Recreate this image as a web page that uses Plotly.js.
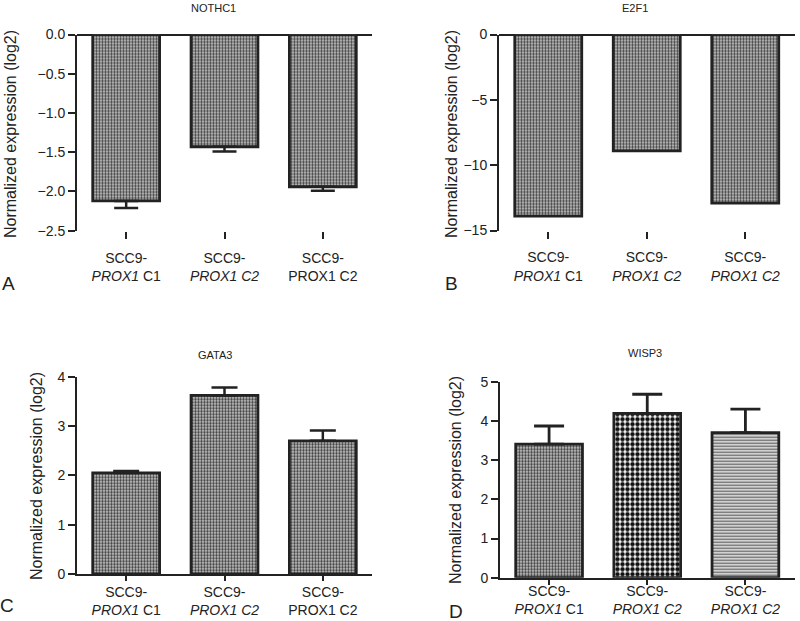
<!DOCTYPE html>
<html><head><meta charset="utf-8">
<script src="https://cdn.plot.ly/plotly-3.0.1.min.js"></script>
<style>html,body{margin:0;padding:0;background:#fff}#chart{width:800px;height:621px}</style>
</head><body><div id="chart"></div>
<script>
// ---- data ----
const positions = [0, 1, 2];
const labelsA = ["SCC9-<br><i>PROX1</i> C1", "SCC9-<br><i>PROX1 C2</i>", "SCC9-<br>PROX1 C2"];
const labelsB = ["SCC9-<br><i>PROX1</i> C1", "SCC9-<br><i>PROX1 C2</i>", "SCC9-<br><i>PROX1 C2</i>"];
const labelsC = ["SCC9-<br><i>PROX1</i> C1", "SCC9-<br><i>PROX1 C2</i>", "SCC9-<br>PROX1 C2"];
const labelsD = ["SCC9-<br><i>PROX1</i> C1", "SCC9-<br><i>PROX1 C2</i>", "SCC9-<br><i>PROX1 C2</i>"];
const notch1 = [-2.12, -1.43, -1.94];
const notch1Err = [0.09, 0.06, 0.05];
const e2f1 = [-13.9, -8.9, -12.9];
const gata3 = [2.05, 3.62, 2.70];
const gata3Err = [0.04, 0.16, 0.21];
const wisp3 = [3.41, 4.19, 3.70];
const wisp3Err = [0.46, 0.49, 0.60];
const titles = ["NOTHC1", "E2F1", "GATA3", "WISP3"];
const panelLetters = ["A", "B", "C", "D"];
const yTitle = "Normalized expression (log2)";

// ---- styling ----
const FONT = "Arial, 'Liberation Sans', Helvetica, sans-serif";
const INK = "#222";
const finePattern = {shape: ".", size: 3, solidity: 0.5, fgcolor: "#3c3c3c", bgcolor: "#d0d0d0", fillmode: "replace"};
const outline = {color: INK, width: 2.8};

function zeros(a) { return a.map(() => 0); }

const traces = [
  {type: "bar", x: positions, y: notch1, xaxis: "x", yaxis: "y", width: 0.68,
   marker: {color: "#999", line: outline, pattern: finePattern},
   error_y: {type: "data", symmetric: false, array: zeros(notch1Err), arrayminus: notch1Err, width: 12, thickness: 2.5, color: INK}},
  {type: "bar", x: positions, y: e2f1, xaxis: "x2", yaxis: "y2", width: 0.68,
   marker: {color: "#999", line: outline, pattern: finePattern}},
  {type: "bar", x: positions, y: gata3, xaxis: "x3", yaxis: "y3", width: 0.68,
   marker: {color: "#999", line: outline, pattern: finePattern},
   error_y: {type: "data", symmetric: false, array: gata3Err, arrayminus: zeros(gata3Err), width: 13, thickness: 2.5, color: INK}},
  {type: "bar", x: positions, y: wisp3, xaxis: "x4", yaxis: "y4", width: 0.68,
   marker: {color: "#999", line: outline,
     pattern: {shape: [".", ".", "-"], size: [3, 5, 3], solidity: [0.5, 0.62, 0.5],
               fgcolor: ["#3c3c3c", "#111", "#5e5e5e"], bgcolor: ["#d0d0d0", "#fff", "#f6f6f6"], fillmode: "replace"}},
   error_y: {type: "data", symmetric: false, array: wisp3Err, arrayminus: zeros(wisp3Err), width: 15, thickness: 2.8, color: INK}}
];

function xAx(domain, anchor, labels, line, ticklen, standoff) {
  return {domain: domain, anchor: anchor, range: [-0.5, 2.5], tickmode: "array", tickvals: positions, ticktext: labels,
    ticks: "outside", ticklen: ticklen, tickwidth: 2, tickcolor: INK, showline: line, linecolor: INK, linewidth: 2,
    ticklabelstandoff: standoff,
    showgrid: false, zeroline: false, fixedrange: true, tickfont: {family: FONT, size: 14, color: INK}};
}
function yAx(domain, anchor, range, dtick, fmt, zl) {
  return {domain: domain, anchor: anchor, range: range, dtick: dtick, tickformat: fmt, ticks: "outside", ticklen: 7,
    tickwidth: 2, tickcolor: INK, showline: true, linecolor: INK, linewidth: 2, showgrid: false,
    zeroline: zl, zerolinecolor: INK, zerolinewidth: 2, fixedrange: true, tickfont: {family: FONT, size: 14, color: INK}};
}

const W = 800, H = 621;
const px = v => v / W, py = v => 1 - v / H;
function note(text, x, y, size, angle) {
  return {text: text, x: px(x), y: py(y), xref: "paper", yref: "paper", xanchor: "center", yanchor: "middle",
    showarrow: false, textangle: angle || 0, font: {size: size, family: FONT, color: INK}};
}

const layout = {
  width: W, height: H, margin: {l: 0, r: 0, t: 0, b: 0}, showlegend: false,
  paper_bgcolor: "#fff", plot_bgcolor: "rgba(0,0,0,0)", bargap: 0.32,
  font: {family: FONT, color: INK},
  xaxis: xAx([px(77), px(372)], "y", labelsA, false, 7, 7),
  yaxis: yAx([py(230.7), py(34.5)], "x", [-2.5, 0], 0.5, ".1f", true),
  xaxis2: xAx([px(499), px(794.5)], "y2", labelsB, false, 7, 7),
  yaxis2: yAx([py(230.5), py(34.5)], "x2", [-15, 0], 5, "d", true),
  xaxis3: xAx([px(77), px(372)], "y3", labelsC, true, 5, -1),
  yaxis3: yAx([py(574), py(376.7)], "x3", [0, 4], 1, "d", false),
  xaxis4: xAx([px(500), px(794.5)], "y4", labelsD, true, 5, -6),
  yaxis4: yAx([py(577.7), py(381.7)], "x4", [0, 5], 1, "d", false),
  annotations: [
    note(titles[0], 213, 8, 11), note(titles[1], 635, 8, 11),
    note(titles[2], 215, 355, 11), note(titles[3], 645, 353, 11),
    note(panelLetters[0], 8, 283, 19), note(panelLetters[1], 451, 283, 19),
    note(panelLetters[2], 7, 605, 19), note(panelLetters[3], 456, 611, 19),
    note(yTitle, 11, 134, 16, -90), note(yTitle, 452, 134, 16, -90),
    note(yTitle, 36, 476, 16, -90), note(yTitle, 455, 480, 16, -90)
  ]
};

Plotly.newPlot("chart", traces, layout, {staticPlot: true, displayModeBar: false});
</script>
</body></html>
